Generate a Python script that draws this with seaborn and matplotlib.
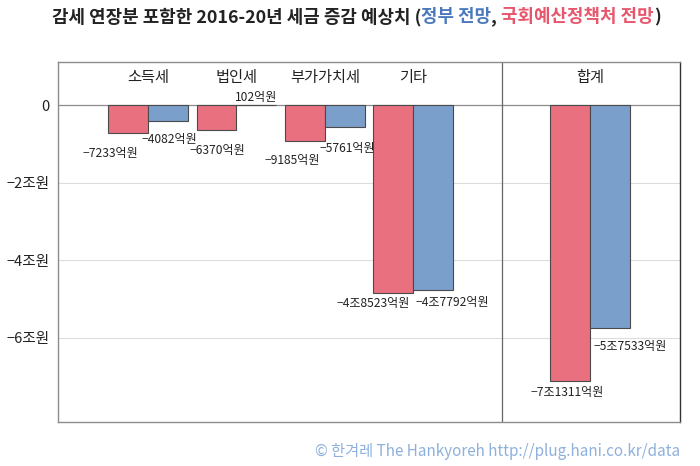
import matplotlib
matplotlib.use("Agg")
import matplotlib.pyplot as plt
import seaborn as sns
import pandas as pd

sns.set_theme(style="white")
FAM = ['Noto Sans CJK KR', 'DejaVu Sans']
plt.rcParams['font.family'] = FAM
plt.rcParams['axes.unicode_minus'] = True

# ---- data (억원) ----
categories = ['소득세', '법인세', '부가가치세', '기타', '합계']
nabo_values = [-7233, -6370, -9185, -48523, -71311]   # 국회예산정책처 전망
gov_values = [-4082, 102, -5761, -47792, -57533]      # 정부 전망
series_names = ['국회예산정책처 전망', '정부 전망']
ytick_values = [0, -20000, -40000, -60000]
ytick_labels = ['0', '−2조원', '−4조원', '−6조원']

# label offsets in pixels (dx, dy) per bar : style only
nabo_offsets = [(-18, -20), (1, -21), (-13, -20), (-20, -10), (-3, -11)]
gov_offsets = [(1, -19), (0, 7), (3, -21), (19, -12), (20, -19)]

def fmt(v):
    s = '−' if v < 0 else ''
    a = abs(v)
    jo, eok = divmod(a, 10000)
    if jo:
        return f"{s}{jo}조{eok}억원"
    return f"{s}{eok}억원"

rows = []
for c, a, b in zip(categories, nabo_values, gov_values):
    rows.append((c, series_names[0], a))
    rows.append((c, series_names[1], b))
df = pd.DataFrame(rows, columns=['category', 'series', 'value'])

order = categories[:4] + [' '] + categories[4:]
pos = {c: order.index(c) for c in categories}

RED = '#E8707F'
BLUE = '#7B9FCB'

fig = plt.figure(figsize=(7, 4.66), dpi=100)
ax = fig.add_axes([58/700, 1-422/466, 622/700, 360/466])

sns.barplot(data=df, x='category', y='value', hue='series', order=order,
            hue_order=series_names, palette=[RED, BLUE], width=0.9,
            saturation=1, edgecolor='#4a4a4a', linewidth=0.8, legend=False,
            ax=ax, zorder=3)

ax.set_xlim(-1.02, 6.02)
ax.set_ylim(-81800, 11100)
ax.set_yticks(ytick_values)
ax.set_yticklabels(ytick_labels, fontsize=10.5, color='#222', family=FAM)
ax.set_xticks([])
ax.set_xlabel('')
ax.set_ylabel('')
ax.tick_params(axis='y', length=0, pad=6)

for yv in ytick_values[1:]:
    ax.axhline(yv, color='#dcdcdc', lw=0.8, zorder=1)
ax.axhline(0, color='#8c8c8c', lw=0.9, zorder=2)
ax.axvline(4, color='#666', lw=0.9, zorder=2)

for side in ['left', 'top', 'bottom']:
    ax.spines[side].set_color('#8c8c8c')
    ax.spines[side].set_linewidth(1.0)
ax.spines['right'].set_color('#333')
ax.spines['right'].set_linewidth(1.0)

for c in categories:
    ax.text(pos[c], 7000, c, ha='center', va='center', fontsize=11,
            color='#222', family=FAM)

hw = 0.225
for i, c in enumerate(categories):
    for v, off, dx in ((nabo_values[i], nabo_offsets[i], -hw),
                       (gov_values[i], gov_offsets[i], hw)):
        ax.annotate(fmt(v), xy=(pos[c] + dx, v), xytext=off,
                    textcoords='offset pixels', ha='center', va='center',
                    fontsize=8.7, color='#222', family=FAM)

# title in colored pieces
parts = [('감세 연장분 포함한 2016-20년 세금 증감 예상치 (', '#222'),
         ('정부 전망', '#4B79BD'), (', ', '#222'),
         ('국회예산정책처 전망', '#E8566C'), (')', '#222')]
fig.canvas.draw()
r = fig.canvas.get_renderer()
texts = []
for s, col in parts:
    t = fig.text(0, 1-17/466, s, color=col, fontsize=12.9, fontweight='semibold',
                 va='center', ha='left', family=FAM)
    texts.append(t)
widths = [t.get_window_extent(r).width for t in texts]
total = sum(widths)
x = 356 - total/2
for t, w in zip(texts, widths):
    t.set_x(x/700)
    x += w

fig.text(680/700, 1-452/466, '© 한겨레 The Hankyoreh http://plug.hani.co.kr/data',
         ha='right', va='center', fontsize=11, color='#8DB0DC', family=FAM)

fig.savefig('out.png', dpi=100)
